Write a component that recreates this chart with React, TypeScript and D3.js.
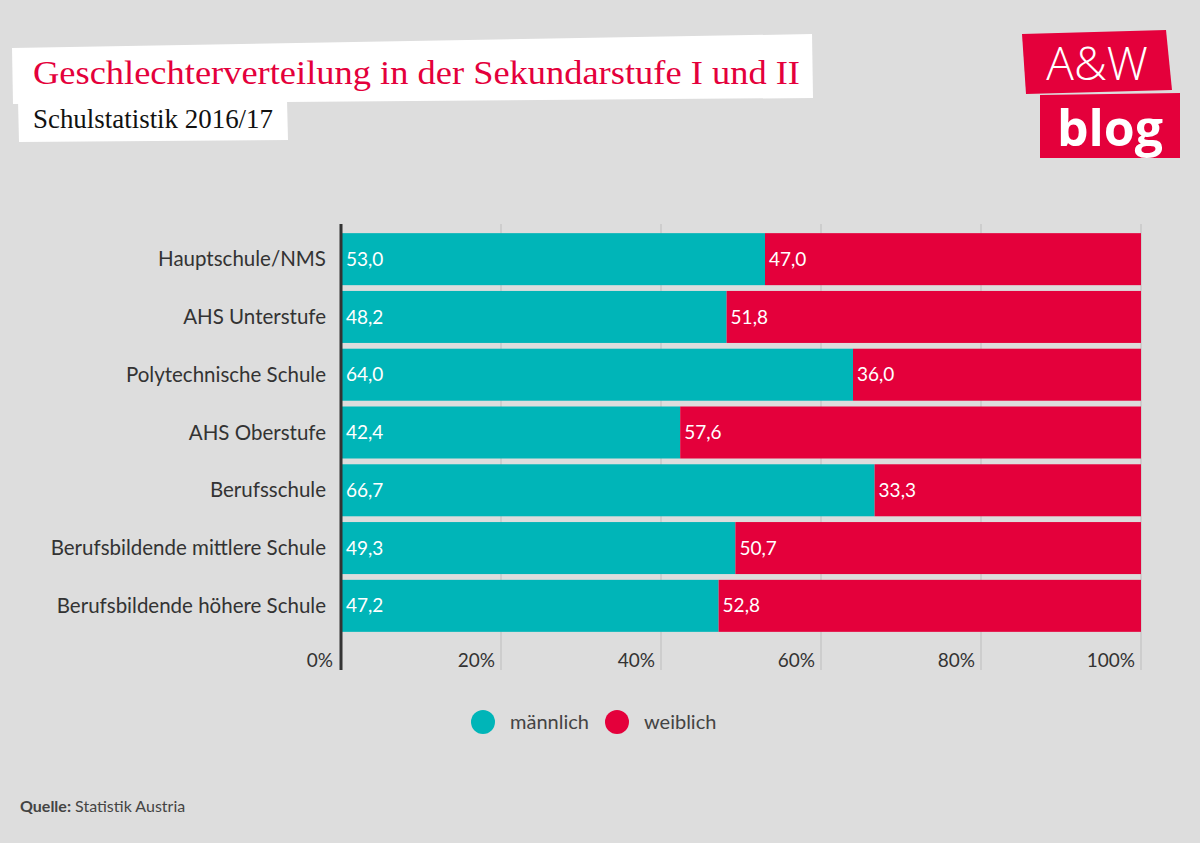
import React from "react";
import * as d3 from "d3";

const categories = [
  "Hauptschule/NMS",
  "AHS Unterstufe",
  "Polytechnische Schule",
  "AHS Oberstufe",
  "Berufsschule",
  "Berufsbildende mittlere Schule",
  "Berufsbildende höhere Schule",
];
const maennlich = [53.0, 48.2, 64.0, 42.4, 66.7, 49.3, 47.2];
const weiblich = [47.0, 51.8, 36.0, 57.6, 33.3, 50.7, 52.8];
const ticks = [0, 20, 40, 60, 80, 100];
const seriesNames = ["männlich", "weiblich"];

const TEAL = "#00b5b8";
const RED = "#e4003b";
const FONT = "Lato, 'Noto Sans', sans-serif";

export default function App() {
  const W = 1200, H = 843;
  const x = d3.scaleLinear().domain([0, 100]).range([341, 1141]);
  const y = d3.scaleBand<string>().domain(categories).range([232, 633]).paddingInner(0.1).paddingOuter(0.02);
  const fmt = (v: number) => v.toFixed(1).replace(".", ",");
  const bw = y.bandwidth();

  return (
    <svg width={W} height={H} style={{ position: "absolute", left: 0, top: 0, display: "block" }}>
      <rect x={0} y={0} width={W} height={H} fill="#dddddd" />
      {/* Title boxes */}
      <polygon points="12,48 812,34 813,98 13,104" fill="#ffffff" />
      <polygon points="18,100 287,100 288,140 19,142" fill="#ffffff" />
      <text x={33} y={84} fill={RED} fontFamily="'Liberation Serif', serif" fontSize={34}
        textLength={767} lengthAdjust="spacingAndGlyphs">
        Geschlechterverteilung in der Sekundarstufe I und II
      </text>
      <text x={33} y={128} fill="#111" fontFamily="'Liberation Serif', serif" fontSize={27}
        textLength={240} lengthAdjust="spacingAndGlyphs">
        Schulstatistik 2016/17
      </text>

      {/* Logo */}
      <polygon points="1022,34 1166,30 1172,90 1026,94" fill={RED} />
      <polygon points="1040,95 1180,93 1180,158 1040,158" fill={RED} />
      <text x={1097} y={80} textAnchor="middle" fill="#fff" fontFamily="'Open Sans', sans-serif" fontSize={46} fontWeight={300}>
        A&amp;W
      </text>
      <text x={1110} y={146} textAnchor="middle" fill="#fff" fontFamily="'Open Sans', sans-serif" fontSize={50} fontWeight={700}>
        blog
      </text>

      {/* Gridlines */}
      {ticks.filter(t => t > 0).map(t => (
        <line key={t} x1={x(t)} x2={x(t)} y1={224} y2={670} stroke="#bdbdbd" strokeWidth={1} />
      ))}

      {/* Bars */}
      {categories.map((c, i) => {
        const y0 = y(c)!;
        return (
          <g key={c}>
            <rect x={x(0)} y={y0} width={x(maennlich[i]) - x(0)} height={bw} fill={TEAL} />
            <rect x={x(maennlich[i])} y={y0} width={x(100) - x(maennlich[i])} height={bw} fill={RED} />
            <text x={x(0) + 5} y={y0 + bw / 2} dy="0.35em" fill="#fff" fontFamily={FONT} fontSize={19}>
              {fmt(maennlich[i])}
            </text>
            <text x={x(maennlich[i]) + 4} y={y0 + bw / 2} dy="0.35em" fill="#fff" fontFamily={FONT} fontSize={19}>
              {fmt(weiblich[i])}
            </text>
            <text x={326} y={y0 + bw / 2} dy="0.35em" textAnchor="end" fill="#333" fontFamily={FONT} fontSize={20.5}>
              {c}
            </text>
          </g>
        );
      })}

      {/* Zero axis */}
      <line x1={x(0)} x2={x(0)} y1={224} y2={670} stroke="#333" strokeWidth={3} />

      {/* Tick labels */}
      {ticks.map(t => (
        <text key={t} x={x(t) - (t === 0 ? 8 : 6)} y={667} textAnchor="end" fill="#333" fontFamily={FONT} fontSize={19}>
          {t}%
        </text>
      ))}

      {/* Legend */}
      <circle cx={483} cy={722} r={12} fill={TEAL} />
      <text x={510} y={729} fill="#444" fontFamily={FONT} fontSize={20}>{seriesNames[0]}</text>
      <circle cx={617} cy={722} r={12} fill={RED} />
      <text x={644} y={729} fill="#444" fontFamily={FONT} fontSize={20}>{seriesNames[1]}</text>

      {/* Source */}
      <text x={20} y={812} fill="#444" fontFamily={FONT} fontSize={16}>
        <tspan fontWeight={700}>Quelle:</tspan> Statistik Austria
      </text>
    </svg>
  );
}
